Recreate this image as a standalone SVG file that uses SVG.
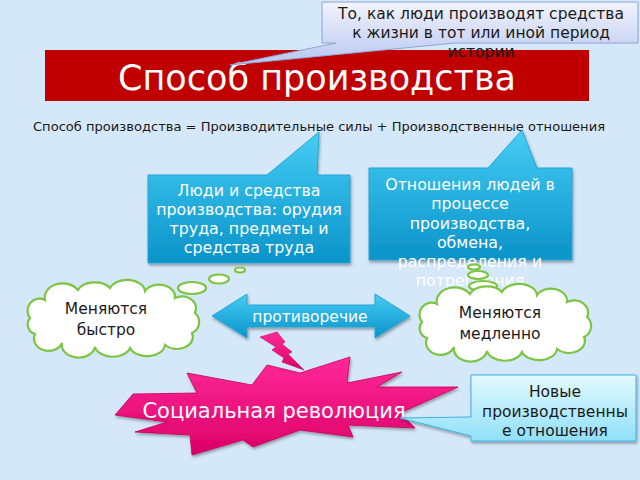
<svg xmlns="http://www.w3.org/2000/svg" width="640" height="480" viewBox="0 0 640 480">
<defs>
<linearGradient id="gBlue" x1="0" y1="0" x2="0" y2="1"><stop offset="0" stop-color="#45cdf4"/><stop offset="1" stop-color="#0a93c9"/></linearGradient>
<linearGradient id="gTop" x1="0" y1="0" x2="0" y2="1"><stop offset="0" stop-color="#f2f3fc"/><stop offset="1" stop-color="#b7c7f0"/></linearGradient>
<linearGradient id="gCyan" x1="0" y1="0" x2="0" y2="1"><stop offset="0" stop-color="#e4f9ff"/><stop offset="1" stop-color="#8fe0f8"/></linearGradient>
<linearGradient id="gPink" x1="0" y1="0" x2="0" y2="1"><stop offset="0" stop-color="#ff2a9a"/><stop offset="1" stop-color="#dc0066"/></linearGradient>
<filter id="sh" x="-10%" y="-10%" width="130%" height="140%"><feDropShadow dx="1" dy="2" stdDeviation="1.5" flood-color="#000" flood-opacity="0.35"/></filter>
<path id="cloud" d="M30,318 A12,12 0 0 1 45,300 A18,14 0 0 1 78,290 A18,12 0 0 1 110,288 A18,12 0 0 1 145,291 A16,12 0 0 1 175,298 A14,12 0 0 1 195,313 A12,12 0 0 1 192,333 A16,12 0 0 1 165,345 A18,12 0 0 1 130,348 A18,12 0 0 1 95,347 A16,12 0 0 1 62,343 A14,12 0 0 1 35,334 A10,10 0 0 1 30,318 Z"/>
</defs>
<style>
.t{font-family:"DejaVu Sans","Noto Sans",sans-serif;text-anchor:middle}
.w{fill:#ffffff}
.k{fill:#1a1a1a}
.bub{fill:#ffffff;stroke:#7cc443;stroke-width:2.2}
</style>
<rect width="640" height="480" fill="#d5e8f9"/>

<g id="banner">
<rect x="45" y="50" width="544" height="51" fill="#c00000"/>
<text class="t w" x="317" y="90" font-size="35">Способ производства</text>
</g>

<g id="top-callout">
<path d="M322,2 H638 V43 H455 L230,65 L336,43 H322 Z" fill="url(#gTop)" stroke="#8ea4d6" stroke-width="1"/>
<text class="t k" x="481" y="19" font-size="15.5">То, как люди производят средства</text>
<text class="t k" x="481" y="38" font-size="15.5">к жизни в тот или иной период</text>
<text class="t k" x="481" y="57" font-size="15.5">истории</text>
</g>

<g id="equation">
<text class="t k" x="319" y="131" font-size="12.5" textLength="572" lengthAdjust="spacingAndGlyphs">Способ производства = Производительные силы + Производственные отношения</text>
</g>

<g id="productive-forces">
<path d="M148,175 H267 L319,132 L317,175 H350 V263 H148 Z" fill="url(#gBlue)" stroke="#2aa3d2" stroke-width="1" filter="url(#sh)"/>
<text class="t w" x="249" y="196" font-size="15.8">Люди и средства</text>
<text class="t w" x="249" y="215" font-size="15.8">производства: орудия</text>
<text class="t w" x="249" y="234" font-size="15.8">труда, предметы и</text>
<text class="t w" x="249" y="253" font-size="15.8">средства труда</text>
</g>

<g id="production-relations">
<path d="M369,168 H488 L522,130 L537,168 H572 V260 H369 Z" fill="url(#gBlue)" stroke="#2aa3d2" stroke-width="1" filter="url(#sh)"/>
<text class="t w" x="470" y="190" font-size="15.8">Отношения людей в</text>
<text class="t w" x="470" y="209" font-size="15.8">процессе</text>
<text class="t w" x="470" y="229" font-size="15.8">производства,</text>
<text class="t w" x="470" y="248" font-size="15.8">обмена,</text>
<text class="t w" x="470" y="267" font-size="15.8">распределения и</text>
<text class="t w" x="470" y="286" font-size="15.8">потребления</text>
</g>

<g id="connectors">
<ellipse class="bub" cx="240" cy="270" rx="5" ry="2.5"/>
<ellipse class="bub" cx="219" cy="279" rx="10" ry="4.5"/>
<ellipse class="bub" cx="192" cy="288" rx="14" ry="6"/>
<ellipse class="bub" cx="474" cy="267" rx="6" ry="2.5"/>
<ellipse class="bub" cx="478" cy="275" rx="10" ry="4"/>
<ellipse class="bub" cx="483" cy="286" rx="14" ry="5"/>
<polygon points="260,337 277,332 285,342 282,344 292,352 288,354 304,370 282,362 284,358 272,350 276,347" fill="url(#gPink)" stroke="#c8005c" stroke-width="0.6"/>
</g>

<g id="fast">
<use href="#cloud" class="bub"/>
<text class="t k" x="106" y="314" font-size="15.5">Меняются</text>
<text class="t k" x="106" y="335" font-size="15.5">быстро</text>
</g>

<g id="slow">
<use href="#cloud" class="bub" transform="translate(392,4)"/>
<text class="t k" x="500" y="318" font-size="15.5">Меняются</text>
<text class="t k" x="500" y="339" font-size="15.5">медленно</text>
</g>

<g id="contradiction">
<polygon points="212,316 247,294 247,305 375,305 375,294 410,316 375,338 375,327 247,327 247,338" fill="url(#gBlue)" stroke="#2aa3d2" stroke-width="1" filter="url(#sh)"/>
<text class="t w" x="310" y="322" font-size="15.5">противоречие</text>
</g>

<g id="revolution">
<polygon points="115,415 133,394 197,393 187,373 252,385 267,365 300,373 350,357 347,383 402,372 377,387 458,387 400,413 415,428 348,425 353,437 300,430 253,447 243,440 192,455 190,435 135,432 167,422" fill="url(#gPink)" stroke="#c8005c" stroke-width="0.8" stroke-linejoin="miter" filter="url(#sh)"/>
<text class="t w" x="274" y="418" font-size="21">Социальная революция</text>
</g>

<g id="new-relations">
<path d="M471,375 H636 V441 H471 V436 L400,418 L471,417 Z" fill="url(#gCyan)" stroke="#3fb3e0" stroke-width="1" filter="url(#sh)"/>
<text class="t k" x="555" y="397" font-size="15.5">Новые</text>
<text class="t k" x="555" y="417" font-size="15.5">производственны</text>
<text class="t k" x="555" y="436" font-size="15.5">е отношения</text>
</g>
</svg>
